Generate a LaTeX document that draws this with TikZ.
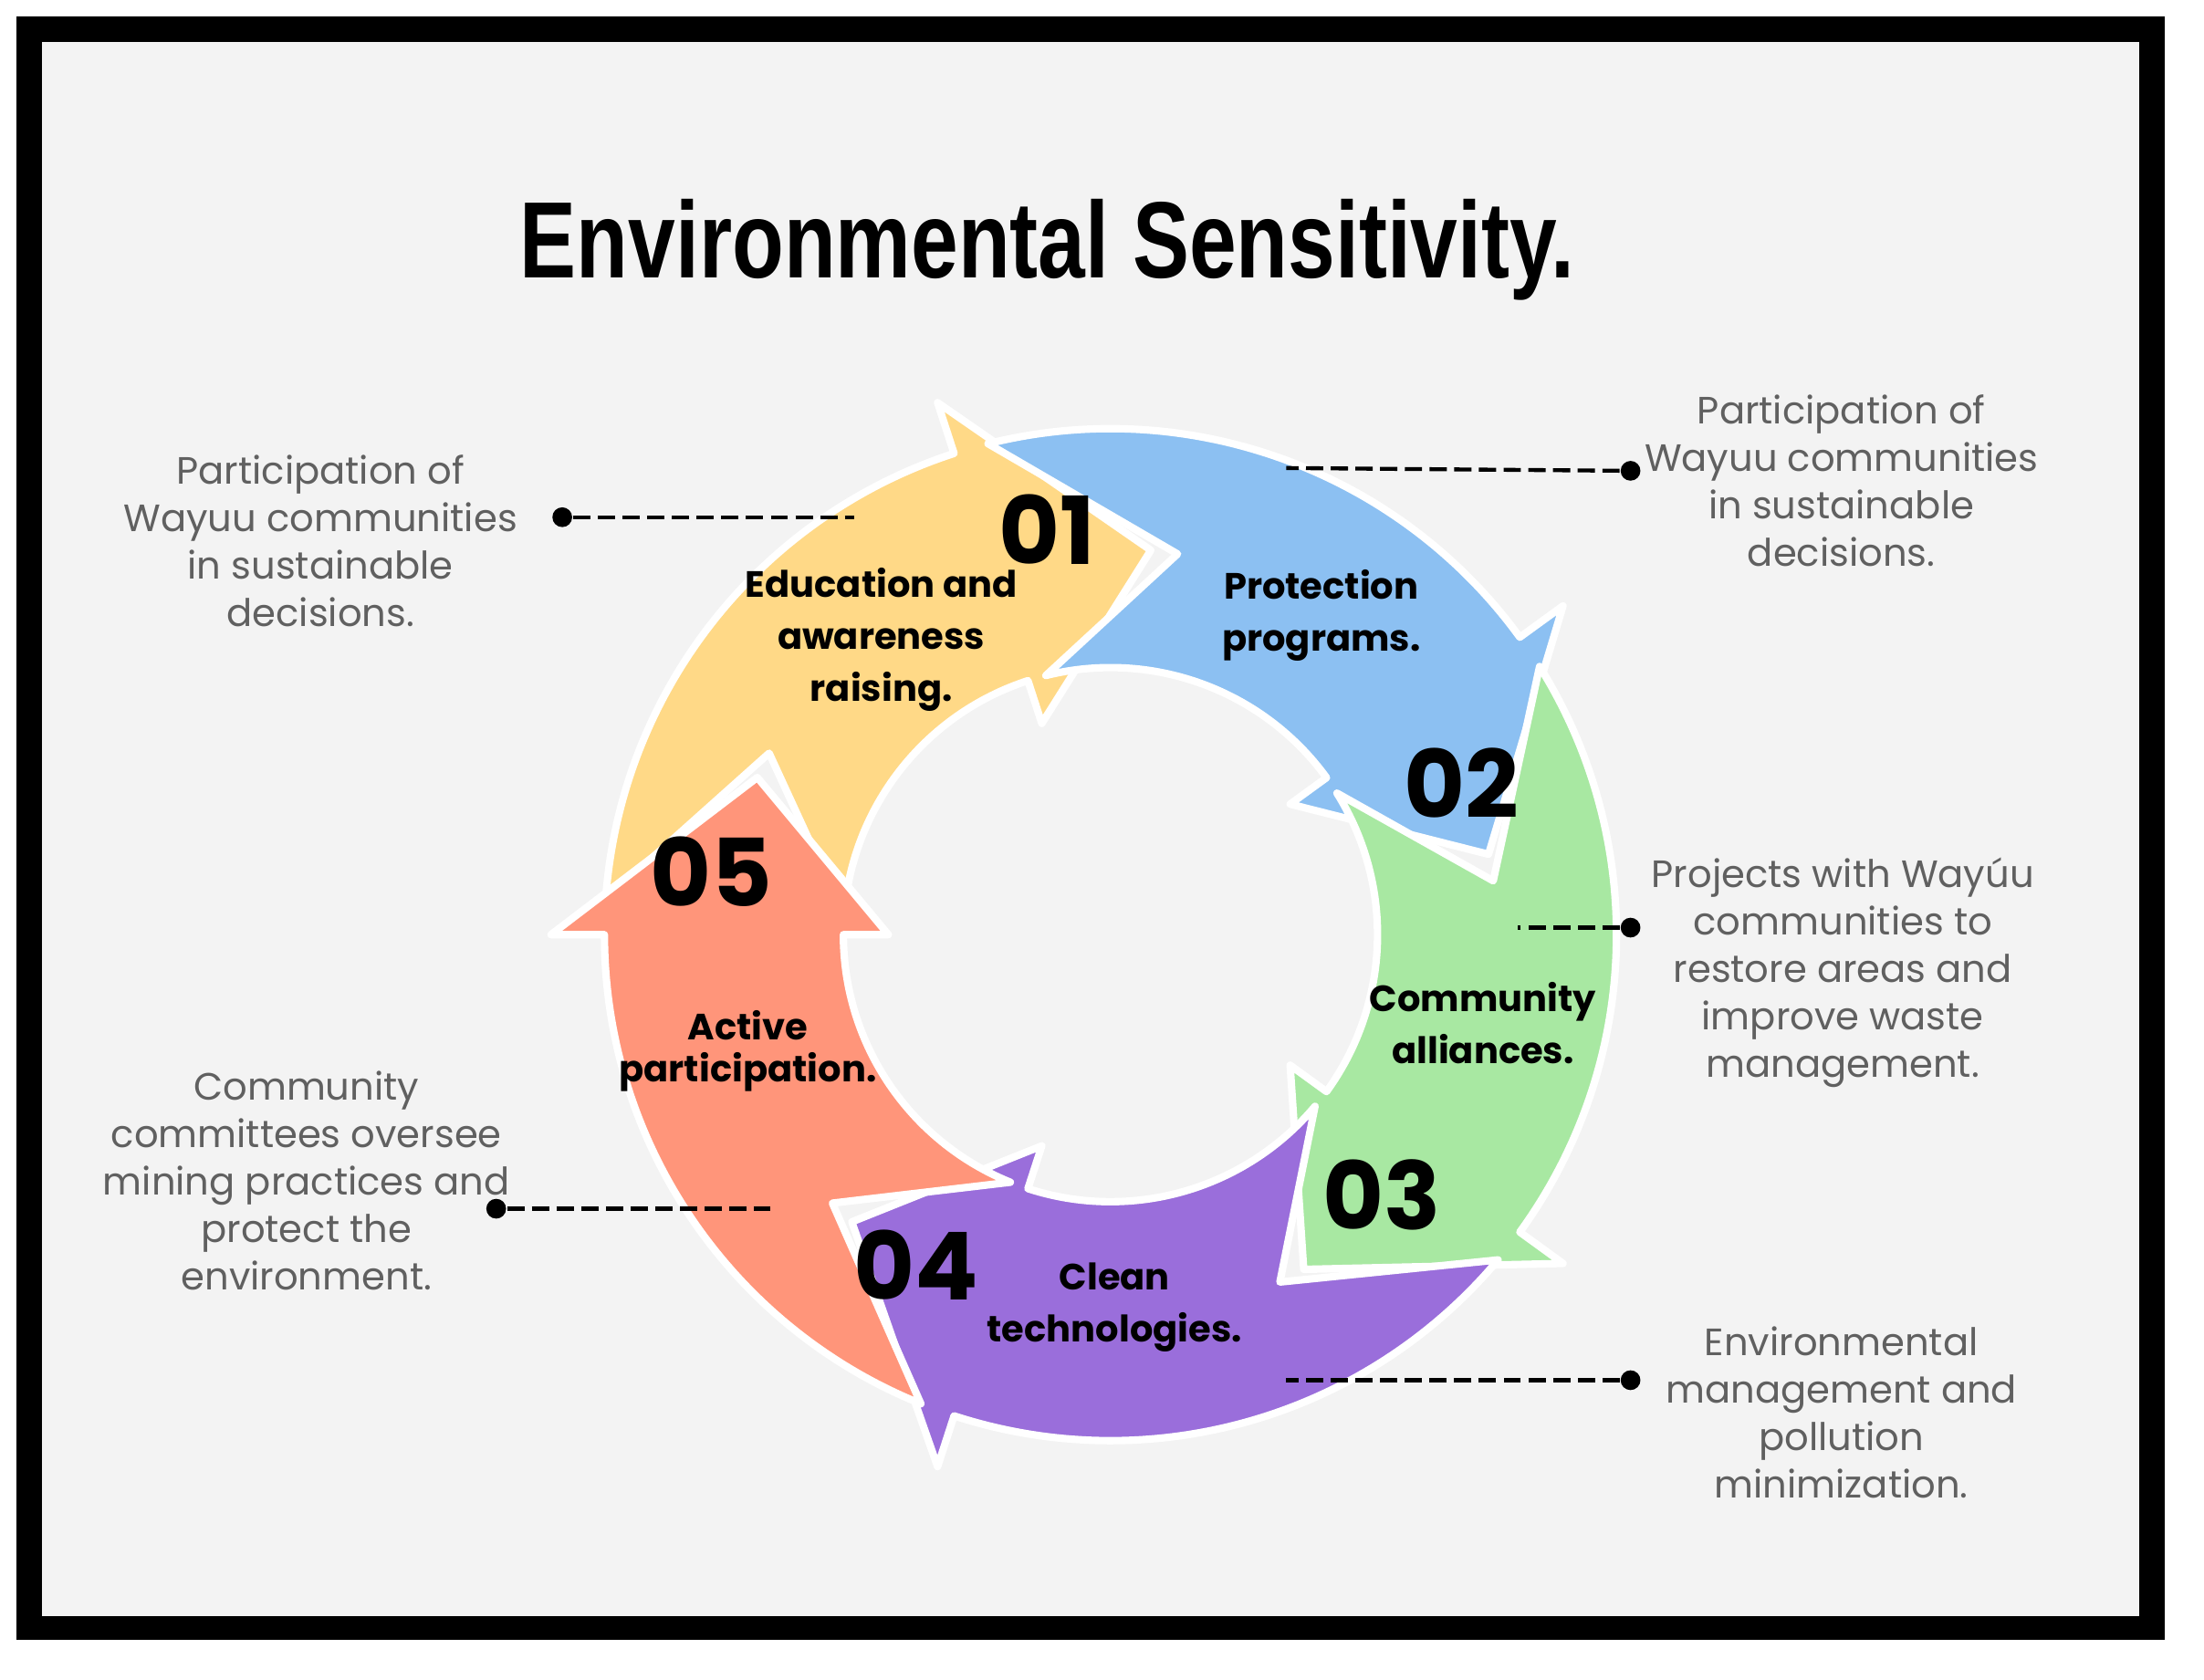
\documentclass[tikz,border=0pt]{standalone}
\usepackage{fontspec}
\setmainfont{Poppins}
\definecolor{bgc}{HTML}{F3F3F3}
\definecolor{cy}{HTML}{FFD987}
\definecolor{cb}{HTML}{8CC0F2}
\definecolor{cg}{HTML}{A8E8A2}
\definecolor{cp}{HTML}{9A6EDB}
\definecolor{co}{HTML}{FF957A}
\definecolor{tg}{HTML}{606060}
\newcommand{\seg}[2]{%
 \pgfmathsetmacro{\ee}{#2}\pgfmathsetmacro{\ss}{#2+68}\pgfmathsetmacro{\tp}{#2-24}\pgfmathsetmacro{\nt}{#2+44}%
 \fill[#1,draw=white,line width=1.5pt,line join=round] (\ss:3.6) arc[start angle=\ss,end angle=\ee,radius=3.6] -- (\ee:3.98) -- (\tp:2.75) -- (\ee:1.58) -- (\ee:1.9) arc[start angle=\ee,end angle=\ss,radius=1.9] -- (\nt:2.75) -- cycle;}
\tikzset{num/.style={font=\bfseries\fontsize{19}{19}\selectfont},
 lab/.style={font=\bfseries\fontsize{7.4}{10.5}\selectfont,align=center},
 side/.style={text=tg,font=\fontsize{7.7}{9.6}\selectfont,align=center},
 dl/.style={line width=0.8pt,dash pattern=on 3.5pt off 1.5pt},
 dotn/.style={circle,fill=black,inner sep=0pt,minimum size=4pt}}
\begin{document}
\begin{tikzpicture}
\useasboundingbox (0,0) rectangle (15.68,11.95);
\fill[white] (0,0) rectangle (15.68,11.95);
\fill[black] (0.12,0.28) rectangle (15.40,11.83);
\fill[bgc] (0.30,0.45) rectangle (15.22,11.65);
\node (title) at (7.45,10.17) {\resizebox*{7.5cm}{0.72cm}{\fontspec{Liberation Sans}\bfseries Environmental Sensitivity.}};
\begin{scope}[shift={(7.9,5.3)}]
\seg{cy}{108}
\seg{cb}{36}
\seg{cg}{-36}
\seg{cp}{-108}
\seg{co}{180}
\end{scope}
\node[num] (n1) at (7.45,8.18) {01};
\node[num] (n2) at (10.40,6.38) {02};
\node[num] (n3) at (9.83,3.45) {03};
\node[num] (n4) at (6.52,2.95) {04};
\node[num] (n5) at (5.06,5.75) {05};
\node[lab] (l1) at (6.27,7.40) {Education and\\awareness\\raising.};
\node[lab] (l2) at (9.40,7.57) {Protection\\programs.};
\node[lab] (l3) at (10.55,4.67) {Community\\alliances.};
\node[lab] (l4) at (7.93,2.65) {Clean\\technologies.};
\node[lab,font=\bfseries\fontsize{7.4}{8.5}\selectfont] (l5) at (5.32,4.47) {Active\\participation.};
\node[side] (s1) at (2.28,8.10) {Participation of\\Wayuu communities\\in sustainable\\decisions.};
\node[side] (s2) at (13.10,8.53) {Participation of\\Wayuu communities\\in sustainable\\decisions.};
\node[side] (s3) at (13.11,5.03) {Projects with Wayúu\\communities to\\restore areas and\\improve waste\\management.};
\node[side] (s4) at (13.10,1.90) {Environmental\\management and\\pollution\\minimization.};
\node[side] (s5) at (2.18,3.55) {Community\\committees oversee\\mining practices and\\protect the\\environment.};
\node[dotn] (d1) at (4.00,8.27) {}; \coordinate (e1) at (6.08,8.27);
\node[dotn] (d2) at (11.60,8.60) {}; \coordinate (e2) at (9.15,8.62);
\node[dotn] (d3) at (11.60,5.35) {}; \coordinate (e3) at (10.80,5.35);
\node[dotn] (d4) at (11.60,2.13) {}; \coordinate (e4) at (9.15,2.13);
\node[dotn] (d5) at (3.53,3.35) {}; \coordinate (e5) at (5.48,3.35);
\foreach \i in {1,...,5} \draw[dl] (d\i) -- (e\i);
\end{tikzpicture}
\end{document}
